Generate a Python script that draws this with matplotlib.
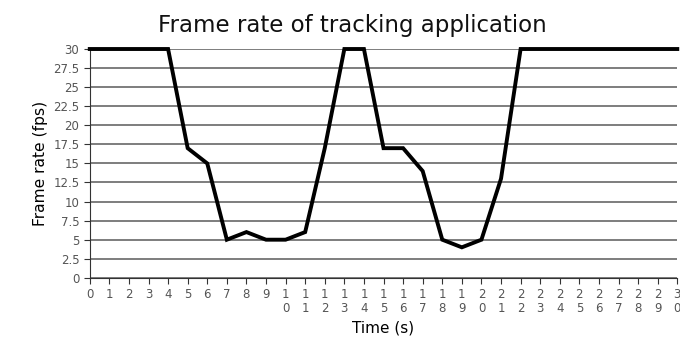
import matplotlib
matplotlib.use("Agg")
import matplotlib.pyplot as plt

# frame rate per second
time_s = list(range(31))
fps = [30, 30, 30, 30, 30, 17, 15, 5, 6, 5, 5, 6, 17, 30, 30, 17, 17, 14,
       5, 4, 5, 13, 30, 30, 30, 30, 30, 30, 30, 30, 30]
y_ticks = [0, 2.5, 5, 7.5, 10, 12.5, 15, 17.5, 20, 22.5, 25, 27.5, 30]
x_labels = ["\n".join(str(t)) for t in time_s]

fig = plt.figure(figsize=(6.8, 3.38), dpi=100)
ax = fig.add_axes([0.132, 0.178, 0.864, 0.677])

ax.plot(time_s, fps, color="black", linewidth=2.8, zorder=3, clip_on=False,
        solid_joinstyle="miter")

ax.set_xlim(0, 30)
ax.set_ylim(0, 30)
ax.set_yticks(y_ticks)
ax.set_yticklabels([f"{v:g}" for v in y_ticks])
ax.set_xticks(time_s)
ax.set_xticklabels(x_labels, linespacing=1.05, va="top")

ax.yaxis.grid(True, color="#5a5a5a", linewidth=1.1)
ax.set_axisbelow(True)
for s in ["top", "right"]:
    ax.spines[s].set_visible(False)
ax.spines["left"].set_color("#333333")
ax.spines["bottom"].set_color("#333333")
ax.tick_params(axis="both", colors="#333333", labelcolor="#555555",
               labelsize=8.5, length=4, width=0.8)

fig.text(0.518, 0.905, "Frame rate of tracking application", fontsize=16.5,
         ha="center", va="baseline", color="#111111")
ax.set_xlabel("Time (s)", fontsize=11, labelpad=4)
ax.set_ylabel("Frame rate (fps)", fontsize=11.2)

fig.savefig("out.png", dpi=100)
